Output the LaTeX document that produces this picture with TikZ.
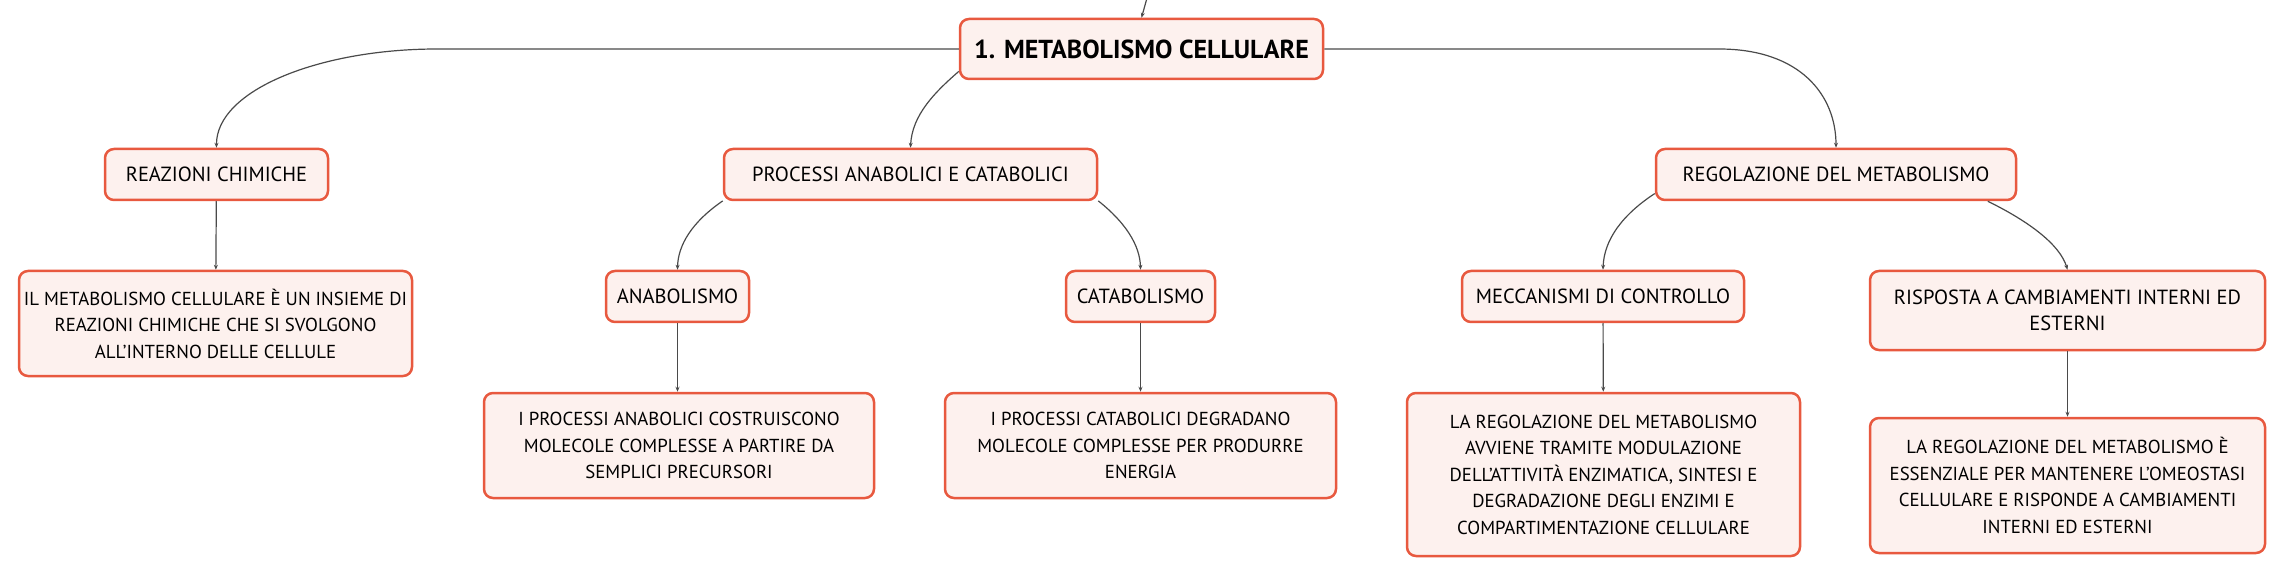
\documentclass[tikz,border=0pt]{standalone}
\usepackage{fontspec}
\setmainfont{PT Sans}
\usetikzlibrary{arrows.meta}
\definecolor{boxline}{HTML}{E8593F}
\definecolor{boxfill}{HTML}{FDF1EE}
\definecolor{linkgray}{HTML}{4A4A4A}
\tikzset{
    topicnode/.style={
        draw=boxline,
        fill=boxfill,
        line width=2.5pt,
        rounded corners=9pt,
        inner sep=0,
        align=center,
        font=\fontsize{20.5}{26}\selectfont,
    },
    rootnode/.style={
        topicnode,
        font=\fontsize{26}{30}\selectfont\bfseries,
    },
    notenode/.style={
        topicnode,
        font=\fontsize{18.8}{26.5}\selectfont,
    },
    link/.style={
        draw=linkgray,
        line width=1.2pt,
        -{Stealth[length=5pt,width=4pt]},
    },
}

\begin{document}
\begin{tikzpicture}[x=1pt,y=-1pt]
            \useasboundingbox (0,0) rectangle (2284,577);

            \node[rootnode, minimum width=363pt, minimum height=60pt] at (1141.5, 49) (root) {1. METABOLISMO CELLULARE} ;
            \coordinate (parent) at (1147, -2) ;

            \node[topicnode, minimum width=223pt, minimum height=51pt] at (216.5, 174.5) (reaz) {REAZIONI CHIMICHE} ;
            \node[topicnode, minimum width=373pt, minimum height=51pt] at (910.5, 174.5) (proc) {PROCESSI ANABOLICI E CATABOLICI} ;
            \node[topicnode, minimum width=360pt, minimum height=51pt] at (1836, 174.5) (regol) {REGOLAZIONE DEL METABOLISMO} ;

            \node[notenode, minimum width=393pt, minimum height=105pt] at (215.5, 323.5) (reazdesc) {IL METABOLISMO CELLULARE È UN INSIEME DI\\REAZIONI CHIMICHE CHE SI SVOLGONO\\ALL'INTERNO DELLE CELLULE} ;

            \node[topicnode, minimum width=143pt, minimum height=51pt] at (677.5, 296.5) (anab) {ANABOLISMO} ;
            \node[topicnode, minimum width=149pt, minimum height=51pt] at (1140.5, 296.5) (catab) {CATABOLISMO} ;
            \node[topicnode, minimum width=282pt, minimum height=51pt] at (1603, 296.5) (mecc) {MECCANISMI DI CONTROLLO} ;
            \node[topicnode, minimum width=395pt, minimum height=79pt] at (2067.5, 310.5) (risp) {RISPOSTA A CAMBIAMENTI INTERNI ED\\ESTERNI} ;

            \node[notenode, minimum width=390pt, minimum height=105pt] at (679, 445.5) (anabdesc) {I PROCESSI ANABOLICI COSTRUISCONO\\MOLECOLE COMPLESSE A PARTIRE DA\\SEMPLICI PRECURSORI} ;
            \node[notenode, minimum width=391pt, minimum height=105pt] at (1140.5, 445.5) (catabdesc) {I PROCESSI CATABOLICI DEGRADANO\\MOLECOLE COMPLESSE PER PRODURRE\\ENERGIA} ;
            \node[notenode, minimum width=393pt, minimum height=163pt] at (1603.5, 474.5) (meccdesc) {LA REGOLAZIONE DEL METABOLISMO\\AVVIENE TRAMITE MODULAZIONE\\DELL'ATTIVITÀ ENZIMATICA, SINTESI E\\DEGRADAZIONE DEGLI ENZIMI E\\COMPARTIMENTAZIONE CELLULARE} ;
            \node[notenode, minimum width=395pt, minimum height=135pt] at (2067.5, 485.5) (rispdesc) {LA REGOLAZIONE DEL METABOLISMO È\\ESSENZIALE PER MANTENERE L'OMEOSTASI\\CELLULARE E RISPONDE A CAMBIAMENTI\\INTERNI ED ESTERNI} ;

            \draw[link] (parent) -- (root.north) ;
            \draw[link] (root.west) -- (437, 49) .. controls (320, 49) and (216, 90) .. (reaz.north) ;
            \draw[link] (root.187) .. controls (935, 92) and (912, 115) .. (proc.north) ;
            \draw[link] (root.east) -- (1719, 49) .. controls (1800, 49) and (1836, 95) .. (regol.north) ;

            \draw[link] (proc.188) .. controls (692, 222) and (678, 245) .. (anab.north) ;
            \draw[link] (proc.-8) .. controls (1125, 222) and (1140, 245) .. (catab.north) ;
            \draw[link] (regol.186) .. controls (1622, 215) and (1604, 240) .. (mecc.north) ;
            \draw[link] (regol.-10) .. controls (2030, 222) and (2060, 245) .. (risp.north) ;

            \draw[link] (reaz) -- (reazdesc) ;
            \draw[link] (anab.south) -- (anab.south |- anabdesc.north) ;
            \draw[link] (catab) -- (catabdesc) ;
            \draw[link] (mecc) -- (meccdesc) ;
            \draw[link] (risp) -- (rispdesc) ;
        \end{tikzpicture}
\end{document}
